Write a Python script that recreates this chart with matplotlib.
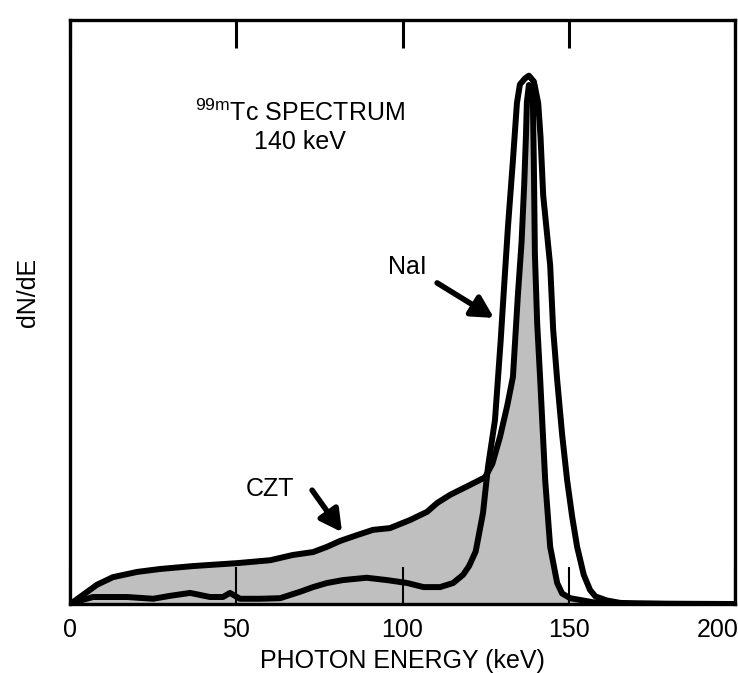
import matplotlib
matplotlib.use("Agg")
from matplotlib import pyplot as plt
from matplotlib import transforms

plt.rcParams['font.family'] = ['Liberation Sans', 'DejaVu Sans']
plt.rcParams['mathtext.fontset'] = 'custom'
plt.rcParams['mathtext.rm'] = 'Liberation Sans'

# CZT spectrum (filled)
czt_energy = [0, 0.6, 8.1, 12.9, 20.2, 27.1, 37, 50.2, 60.2, 67, 73.1, 77.3, 81.2, 86.3,
              91.1, 96.2, 102.3, 107.4, 110.4, 114.3, 120.3, 124.8, 127, 129.3, 131.5,
              133.2, 134.7, 135.8, 136.6, 137.1, 137.4, 138, 138.8, 139.2, 139.5, 139.8,
              140.5, 141.4, 142.9, 144.4, 146.5, 148, 150.4, 157.3, 165, 200]
czt_counts = [0, 0.002, 0.033, 0.046, 0.055, 0.060, 0.065, 0.070, 0.075, 0.084, 0.089, 0.098,
              0.108, 0.118, 0.127, 0.130, 0.144, 0.158, 0.173, 0.187, 0.204, 0.217, 0.24,
              0.286, 0.34, 0.389, 0.53, 0.62, 0.72, 0.80, 0.86, 0.889, 0.885, 0.863, 0.75,
              0.6, 0.48, 0.384, 0.212, 0.098, 0.036, 0.018, 0.010, 0.003, 0.001, 0.0]

# NaI spectrum (outline only)
nai_energy = [0, 0.6, 6.9, 17.1, 25, 30.1, 36.1, 42.1, 46, 48.1, 51.1, 57.1, 63.2, 69.2,
              73.1, 77.3, 82.1, 89.2, 95.3, 101.4, 106.3, 111.3, 115.2, 118.2, 120, 122,
              124.2, 125.7, 127.8, 129.5, 130.5, 131.7, 133.2, 134.4, 135.3, 136.8, 138,
              139.5, 140.8, 141.5, 142.3, 144.4, 145.3, 146.5, 148, 149.5, 151, 152.5,
              154.5, 156.4, 158, 161.5, 165.4, 170, 180, 200]
nai_counts = [0, 0.002, 0.012, 0.012, 0.009, 0.014, 0.019, 0.012, 0.012, 0.019, 0.009, 0.009,
              0.010, 0.021, 0.029, 0.036, 0.041, 0.045, 0.041, 0.036, 0.029, 0.029, 0.036,
              0.050, 0.065, 0.09, 0.156, 0.235, 0.315, 0.45, 0.54, 0.646, 0.76, 0.858, 0.89,
              0.90, 0.905, 0.895, 0.858, 0.80, 0.70, 0.58, 0.47, 0.384, 0.29, 0.212, 0.15,
              0.098, 0.05, 0.024, 0.013, 0.006, 0.002, 0.001, 0.0, 0.0]

x_ticks = [0, 50, 100, 150, 200]

fig = plt.figure(figsize=(7.38, 6.73), dpi=100)
ax = fig.add_axes([0.0949, 0.1025, 0.9011, 0.8675])

ax.fill_between(czt_energy, czt_counts, 0, color='#bfbfbf', lw=0, zorder=1)
ax.plot(czt_energy, czt_counts, color='black', lw=4.3, solid_joinstyle='round', zorder=3)
ax.plot(nai_energy, nai_counts, color='black', lw=4.3, solid_joinstyle='round', zorder=3)

ax.set_xlim(0, 200)
ax.set_ylim(0, 1)
ax.set_yticks([])
ax.set_xticks(x_ticks)
ax.set_xticklabels([str(t) for t in x_ticks], fontsize=18)
ax.tick_params(axis='x', direction='in', length=27, width=1.5, pad=10,
               top=True, bottom=True, zorder=4)
# bottom ticks are longer than top ticks
for t in ax.xaxis.get_major_ticks():
    t.tick1line.set_markersize(27)
    t.tick2line.set_markersize(20)
    t.tick2line.set_markeredgewidth(2.2)
labels = ax.get_xticklabels()
labels[-1].set_ha('right')
labels[-1].set_transform(labels[-1].get_transform() +
                         transforms.ScaledTranslation(0.04, 0, fig.dpi_scale_trans))

for s in ax.spines.values():
    s.set_linewidth(2.4)

ax.set_xlabel('PHOTON ENERGY (keV)', fontsize=18, labelpad=5)
fig.text(0.038, 0.565, 'dN/dE', rotation=90, fontsize=18, ha='center', va='center')

ax.text(69.2, 0.842, r'$^{\mathrm{99m}}$Tc SPECTRUM', fontsize=18, ha='center', va='center')
ax.text(69.2, 0.791, '140 keV', fontsize=18, ha='center', va='center')

arrow = dict(arrowstyle='-|>,head_length=1.3,head_width=0.7', color='black', lw=4,
             shrinkA=0, shrinkB=0)
ax.annotate('', xy=(127.5, 0.49), xytext=(110.4, 0.55), arrowprops=arrow, zorder=5)
ax.annotate('', xy=(81.8, 0.123), xytext=(72.8, 0.195), arrowprops=arrow, zorder=5)
ax.text(101.5, 0.578, 'NaI', fontsize=18, ha='center', va='center')
ax.text(60.2, 0.197, 'CZT', fontsize=18, ha='center', va='center')

fig.savefig('out.png', dpi=100)
